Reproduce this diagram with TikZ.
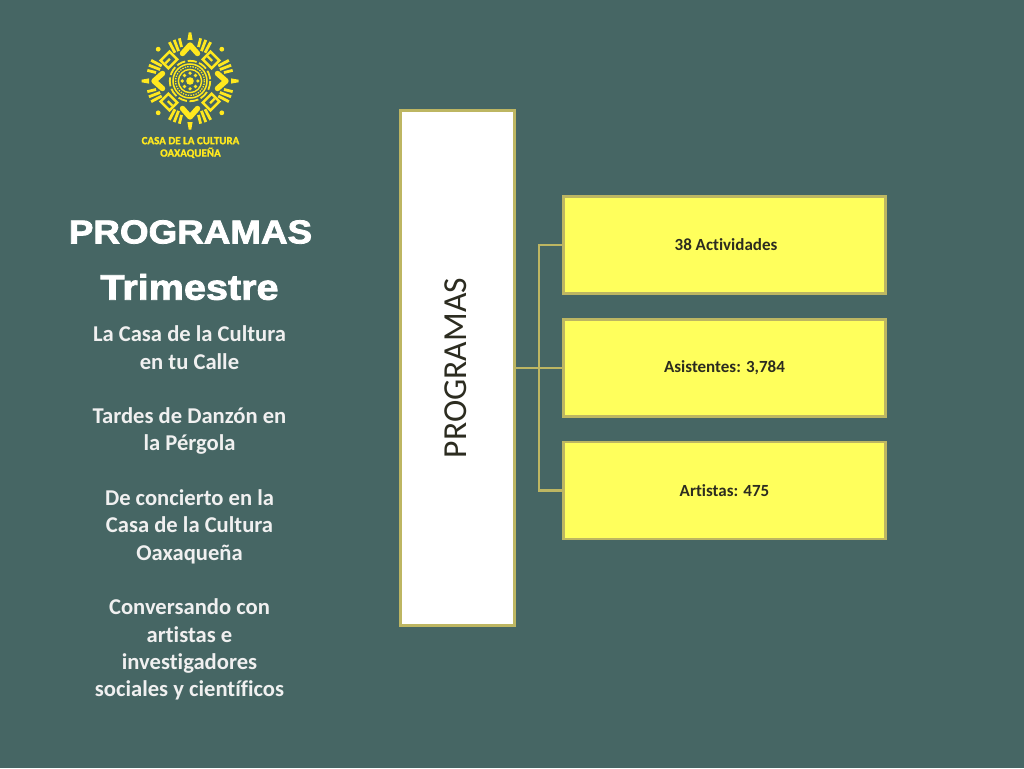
\documentclass[tikz,border=0pt]{standalone}
\usepackage{fontspec}
\setmainfont[Ligatures=NoCommon]{Carlito}
\newfontfamily\titlefont{Liberation Sans}
\definecolor{bgc}{HTML}{466664}
\definecolor{edgec}{HTML}{BDB662}
\definecolor{boxc}{HTML}{FFFF5C}
\definecolor{logoc}{HTML}{FFE81E}
\definecolor{labelc}{HTML}{2C2C20}
\tikzset{
  progbox/.style={draw=edgec,line width=2.8pt,fill=white,minimum width=113.5pt,minimum height=514.5pt,inner sep=0pt},
  itembox/.style={draw=edgec,line width=2.8pt,fill=boxc,minimum width=321.5pt,minimum height=97pt,inner sep=0pt,text=labelc,font=\fontsize{17pt}{20pt}\selectfont\bfseries},
  conn/.style={draw=edgec,line width=2.8pt},
  titletext/.style={text=white,inner sep=0pt,draw=none},
  lg/.style={fill=logoc,draw=none}
}
\newcommand{\chevronmotif}{%
  \fill[lg] (-2.6,-41) -- (-1.3,-48.5) -- (1.3,-48.5) -- (2.6,-41) -- cycle;
  \draw[logoc,line width=5.4pt,line cap=round,line join=round] (-7.5,-27.5) -- (0,-36) -- (7.5,-27.5);
}
\newcommand{\cornermotif}{%
  \fill[lg] (0,-45) circle (2.4);
  \fill[lg,even odd rule] (-7.5,-36.5) rectangle (7.5,-23)
     (-5,-34) rectangle (5,-25.5);
  \fill[lg] (-5,-31) rectangle (1.5,-28.8);
  \foreach \a/\l in {-31/9,-24/12,-17/12,17/12,24/12,31/9}{
    \begin{scope}[rotate=\a]
      \fill[lg] (-1.4,-44) rectangle (1.4,-44+\l);
    \end{scope}}
}
\begin{document}
\begin{tikzpicture}[x=1pt,y=-1pt]
\useasboundingbox (0,0) rectangle (1024,768);
\fill[bgc] (0,0) rectangle (1024,768);

% logo
\begin{scope}[shift={(190,81)}]
  \foreach \r in {0,90,180,270}{
    \begin{scope}[rotate=\r]\chevronmotif\end{scope}}
  \foreach \r in {45,135,225,315}{
    \begin{scope}[rotate=\r]\cornermotif\end{scope}}
  \fill[lg] (0,0) circle (3.8);
  \foreach \r in {0,45,...,315}{\fill[lg] (\r:7.8) circle (1.8);}
  \draw[logoc,line width=1.4pt] (0,0) circle (11.6);
  \draw[logoc,line width=1.3pt,dash pattern=on 1.4pt off 1.2pt] (0,0) circle (14.4);
  \draw[logoc,line width=1.5pt] (0,0) circle (17);
  \draw[logoc,line width=1.8pt,dash pattern=on 9pt off 2.6pt] (0,0) circle (20.2);
\end{scope}
\node[inner sep=0pt,align=center,text=logoc,font=\fontsize{11pt}{12.4pt}\selectfont\bfseries] (logotext) at (190.5,147.5) {\addfontfeature{FakeBold=1.5}CASA DE LA CULTURA\\\addfontfeature{FakeBold=1.5}OAXAQUEÑA};

% titles
\node[titletext,font=\titlefont\bfseries\fontsize{33pt}{36pt}\selectfont] (title) at (190.5,232) {\addfontfeature{FakeBold=2.4,FakeStretch=1.115}PROGRAMAS};
\node[titletext,font=\titlefont\bfseries\fontsize{35.5pt}{38pt}\selectfont] (sub) at (189.5,287) {\addfontfeature{FakeBold=2.4,FakeStretch=1.115}Trimestre};
\node[inner sep=0pt,align=center,text=white!94!black,font=\fontsize{22.6pt}{27.3pt}\selectfont\bfseries] (body) at (189.5,513) {La Casa de la Cultura\\en tu Calle\\\mbox{}\\Tardes de Danzón en\\la Pérgola\\\mbox{}\\De concierto en la\\Casa de la Cultura\\Oaxaqueña\\\mbox{}\\Conversando con\\artistas e\\investigadores\\sociales y científicos};

% diagram
\node[progbox] (prog) at (457.5,368) {};
\node[rotate=90,inner sep=0pt,text=labelc,font=\fontsize{33.6pt}{36pt}\selectfont] (progt) at (456,368) {PROGRAMAS};
\node[itembox] (b1) at (724.5,245) {\hspace*{3pt}38 Actividades};
\node[itembox] (b2) at (724.5,368) {Asistentes: 3,784};
\node[itembox] (b3) at (724.5,490.5) {Artistas: 475};
\coordinate (j) at (539,368);
\draw[conn] (prog.east) -- (b2.west);
\draw[conn] (b1.west) -- (j |- b1.west) -- (j |- b3.west) -- (b3.west);
\end{tikzpicture}
\end{document}
